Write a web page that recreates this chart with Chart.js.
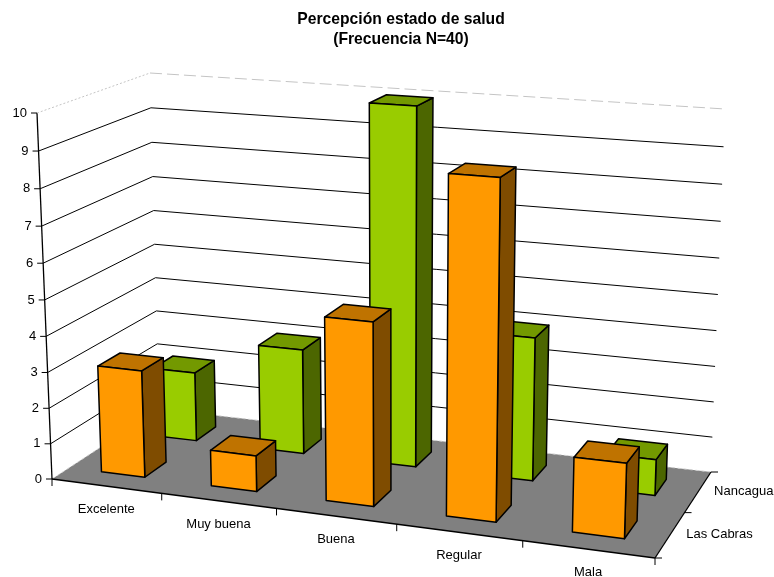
<!DOCTYPE html>
<html>
<head>
<meta charset="utf-8">
<style>
  html, body { margin: 0; padding: 0; background: #fff; }
  #wrap { width: 774px; height: 577px; }
</style>
<script src="https://cdn.jsdelivr.net/npm/chart.js@4/dist/chart.umd.js"></script>
</head>
<body>
<div id="wrap"><canvas id="saludChart"></canvas></div>
<script>
const categories = ["Excelente", "Muy buena", "Buena", "Regular", "Mala"];
const seriesNames = ["Las Cabras", "Nancagua"];
const lasCabras = [3, 1, 5, 9, 2];
const nancagua = [2, 3, 10, 4, 1];
const yTicksMax = 10;

const font = "Liberation Sans, Arial, sans-serif";
const faceColors = [
  { front: "#FF9900", side: "#7F4C00", top: "#BF7300" },
  { front: "#99CC00", side: "#4C6600", top: "#739900" },
];

// perspective box: floor corners and the tops of the visible wall edges
const floorFL = [52, 479];
const floorFR = [655, 558];
const floorBR = [711, 472];
const floorBL = [159, 409];
const topFL = [37, 113];
const topBL = [150, 73];
const topBR = [725, 109];

// unit square -> floor quad
function floorMatrix() {
  const [x0, y0] = floorFL, [x1, y1] = floorFR, [x2, y2] = floorBR, [x3, y3] = floorBL;
  const dx1 = x1 - x2, dx2 = x3 - x2, sx = x0 - x1 + x2 - x3;
  const dy1 = y1 - y2, dy2 = y3 - y2, sy = y0 - y1 + y2 - y3;
  const det = dx1 * dy2 - dx2 * dy1;
  const g = (sx * dy2 - dx2 * sy) / det;
  const h = (dx1 * sy - sx * dy1) / det;
  return [x1 - x0 + g * x1, x3 - x0 + h * x3, x0, y1 - y0 + g * y1, y3 - y0 + h * y3, y0, g, h, 1];
}
const H = floorMatrix();

function floorHomog(u, w) {
  return [H[0] * u + H[1] * w + H[2], H[3] * u + H[4] * w + H[5], H[6] * u + H[7] * w + H[8]];
}

function solve3(A, b) {
  const m = A.map((row, i) => [...row, b[i]]);
  for (let i = 0; i < 3; i++) {
    let p = i;
    for (let r = i + 1; r < 3; r++) if (Math.abs(m[r][i]) > Math.abs(m[p][i])) p = r;
    [m[i], m[p]] = [m[p], m[i]];
    for (let r = 0; r < 3; r++) {
      if (r === i) continue;
      const f = m[r][i] / m[i][i];
      for (let c = i; c < 4; c++) m[r][c] -= f * m[i][c];
    }
  }
  return [m[0][3] / m[0][0], m[1][3] / m[1][1], m[2][3] / m[2][2]];
}

// height column, least squares over the three wall tops
function heightColumn() {
  const rows = [], rhs = [];
  [[0, 0, topFL], [0, 1, topBL], [1, 1, topBR]].forEach(([u, w, p]) => {
    const b = floorHomog(u, w);
    rows.push([1, 0, -p[0]]); rhs.push(p[0] * b[2] - b[0]);
    rows.push([0, 1, -p[1]]); rhs.push(p[1] * b[2] - b[1]);
  });
  const A = [0, 1, 2].map(i => [0, 1, 2].map(j => rows.reduce((s, r) => s + r[i] * r[j], 0)));
  const y = [0, 1, 2].map(i => rows.reduce((s, r, k) => s + r[i] * rhs[k], 0));
  return solve3(A, y);
}
const C = heightColumn();

function rawProject(u, w, v) {
  const b = floorHomog(u, w);
  const d = b[2] + v * C[2];
  return [(b[0] + v * C[0]) / d, (b[1] + v * C[1]) / d];
}

// what the fit leaves over at the wall tops, spread over the box as a plane
const missFL = [topFL[0] - rawProject(0, 0, 1)[0], topFL[1] - rawProject(0, 0, 1)[1]];
const missBL = [topBL[0] - rawProject(0, 1, 1)[0], topBL[1] - rawProject(0, 1, 1)[1]];
const missBR = [topBR[0] - rawProject(1, 1, 1)[0], topBR[1] - rawProject(1, 1, 1)[1]];

// u along categories, w into the depth, v up
function project(u, w, v) {
  const p = rawProject(u, w, v);
  return [0, 1].map(k => p[k] + v * (missFL[k] + w * (missBL[k] - missFL[k]) + u * (missBR[k] - missBL[k])));
}

function poly(ctx, pts) {
  ctx.beginPath();
  pts.forEach((p, i) => (i ? ctx.lineTo(p[0], p[1]) : ctx.moveTo(p[0], p[1])));
  ctx.closePath();
}

function seg(ctx, a, b) {
  ctx.beginPath();
  ctx.moveTo(a[0], a[1]);
  ctx.lineTo(b[0], b[1]);
  ctx.stroke();
}

function drawWalls(ctx, yScale, vOf) {
  ctx.strokeStyle = "#000";
  ctx.lineWidth = 1;
  ctx.fillStyle = "#000";
  ctx.font = "13px " + font;
  ctx.textAlign = "right";
  ctx.textBaseline = "middle";
  yScale.ticks.forEach((tick, i) => {
    const v = vOf(yScale.getPixelForTick(i));
    const a = project(0, 0, v), b = project(0, 1, v), c = project(1, 1, v);
    if (tick.value === yTicksMax) {
      ctx.strokeStyle = "#c4c4c4";
      ctx.setLineDash([2, 2]);
      seg(ctx, a, b);
      ctx.setLineDash([12, 5]);
      seg(ctx, b, c);
      ctx.setLineDash([]);
      ctx.strokeStyle = "#000";
    } else if (tick.value > 0) {
      seg(ctx, a, b);
      seg(ctx, b, c);
    }
    seg(ctx, [a[0] - 6, a[1]], a);
    ctx.fillText(tick.label, a[0] - 10, a[1]);
  });
}

function drawFloor(ctx, xScale, depthScale, uOf, wOf) {
  const fl = project(0, 0, 0), fr = project(1, 0, 0), br = project(1, 1, 0), bl = project(0, 1, 0);
  ctx.fillStyle = "#808080";
  poly(ctx, [fl, fr, br, bl]);
  ctx.fill();

  ctx.strokeStyle = "#cfcfcf";
  ctx.lineWidth = 1;
  ctx.setLineDash([3, 3]);
  seg(ctx, fl, bl);
  seg(ctx, bl, br);
  ctx.setLineDash([]);

  ctx.strokeStyle = "#000";
  ctx.lineWidth = 1.3;
  seg(ctx, project(0, 0, 1), fl);
  seg(ctx, fl, fr);
  seg(ctx, fr, br);

  // category ticks sit on the band edges, labels under the band centres
  ctx.lineWidth = 1;
  for (let i = 0; i <= categories.length; i++) {
    const p = project(i / categories.length, 0, 0);
    seg(ctx, p, [p[0], p[1] + 7]);
  }
  for (let i = 0; i <= seriesNames.length; i++) {
    const p = project(1, i / seriesNames.length, 0);
    seg(ctx, p, [p[0] + 7, p[1]]);
  }

  ctx.fillStyle = "#000";
  ctx.font = "13px " + font;
  ctx.textBaseline = "middle";
  ctx.textAlign = "center";
  categories.forEach((name, i) => {
    const p = project(uOf(xScale.getPixelForTick(i)), 0, 0);
    ctx.fillText(name, p[0], p[1] + 23.5);
  });
  ctx.textAlign = "left";
  seriesNames.forEach((name, i) => {
    const p = project(1, wOf(depthScale.getPixelForTick(i)), 0);
    ctx.fillText(name, p[0] + 16, p[1]);
  });
}

function drawBox(ctx, colors, u0, u1, w0, w1, v) {
  const f0 = project(u0, w0, 0), f1 = project(u1, w0, 0), b1 = project(u1, w1, 0);
  const t0 = project(u0, w0, v), t1 = project(u1, w0, v), t2 = project(u1, w1, v), t3 = project(u0, w1, v);
  [[colors.side, [f1, b1, t2, t1]], [colors.top, [t0, t1, t2, t3]], [colors.front, [f0, f1, t1, t0]]].forEach(([fill, pts]) => {
    ctx.fillStyle = fill;
    poly(ctx, pts);
    ctx.fill();
    ctx.stroke();
  });
}

const box3d = {
  id: "box3d",
  beforeDatasetsDraw(chart) {
    const { ctx, chartArea, scales } = chart;
    const uOf = px => (px - chartArea.left) / chartArea.width;
    const vOf = py => (chartArea.bottom - py) / chartArea.height;
    const wOf = px => (px - scales.depth.left) / scales.depth.width;

    ctx.save();
    ctx.lineJoin = "round";
    drawFloor(ctx, scales.x, scales.depth, uOf, wOf);
    drawWalls(ctx, scales.y, vOf);

    // back row first so the front row covers it
    ctx.strokeStyle = "#000";
    ctx.lineWidth = 1.5;
    const rows = chart.data.datasets.map((d, i) => i).reverse();
    rows.forEach(di => {
      const meta = chart.getDatasetMeta(di);
      const wMid = wOf(scales.depth.getPixelForValue(di));
      const wHalf = chart.data.datasets[di].categoryPercentage / seriesNames.length / 2;
      meta.data.forEach(bar => {
        const p = bar.getProps(["x", "y", "width"], true);
        const v = vOf(p.y);
        const u0 = uOf(p.x - p.width / 2), u1 = uOf(p.x + p.width / 2);
        drawBox(ctx, faceColors[di], u0, u1, wMid - wHalf, wMid + wHalf, v);
      });
    });
    ctx.restore();
    return false;
  },
};

new Chart(document.getElementById("saludChart"), {
  type: "bar",
  data: {
    labels: categories,
    datasets: [
      { label: seriesNames[0], data: lasCabras, backgroundColor: "#FF9900", categoryPercentage: 0.4, barPercentage: 1 },
      { label: seriesNames[1], data: nancagua, backgroundColor: "#99CC00", categoryPercentage: 0.4, barPercentage: 1 },
    ],
  },
  plugins: [box3d],
  options: {
    responsive: true,
    maintainAspectRatio: false,
    animation: false,
    layout: { padding: { left: 28 } },
    plugins: {
      legend: { display: false },
      tooltip: { enabled: false },
      title: {
        display: true,
        text: ["Percepción estado de salud", "(Frecuencia N=40)"],
        color: "#000",
        font: { family: font, size: 15.7, weight: "bold", lineHeight: 1.3 },
        padding: { top: 9, bottom: 0 },
      },
    },
    scales: {
      x: { display: false, stacked: true, offset: true },
      y: { display: false, min: 0, max: yTicksMax, ticks: { stepSize: 1 } },
      depth: { axis: "x", type: "category", display: false, labels: seriesNames, offset: true },
    },
  },
});
</script>
</body>
</html>
